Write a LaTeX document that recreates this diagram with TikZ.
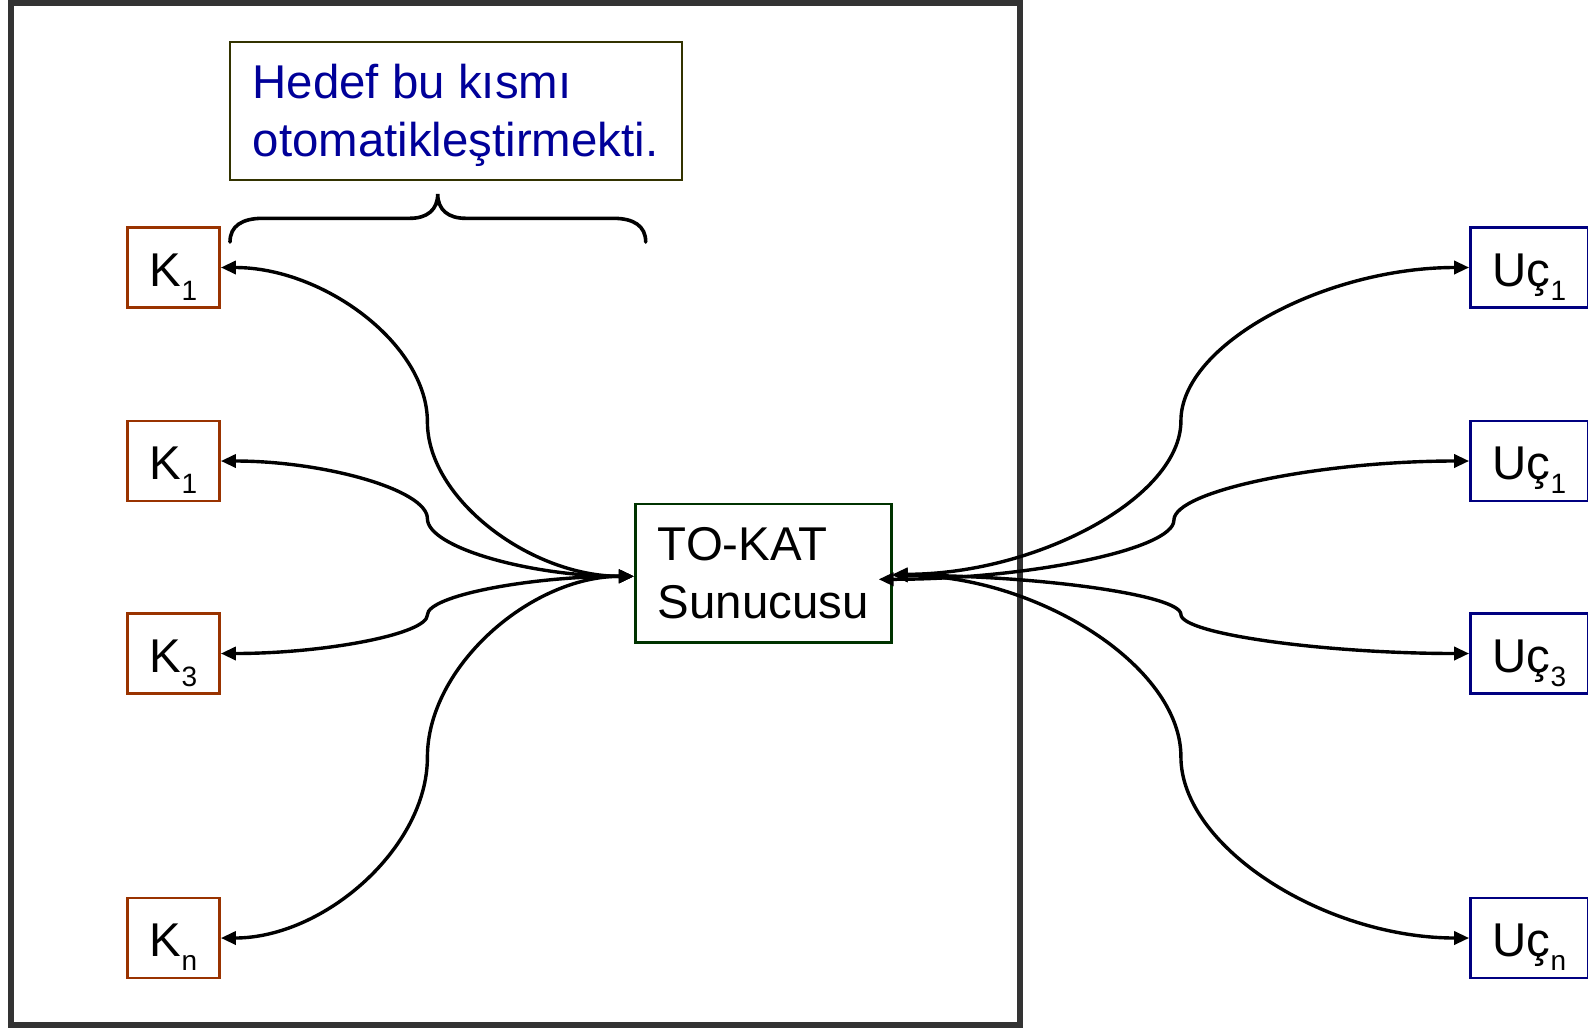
\documentclass[tikz,border=0pt]{standalone}
\usepackage{fontspec}
\setmainfont{Liberation Sans}
\usetikzlibrary{arrows.meta,calc}
\definecolor{framegray}{HTML}{333333}
\definecolor{olivebd}{HTML}{333300}
\definecolor{hedefblue}{HTML}{000099}
\definecolor{kbrown}{HTML}{993300}
\definecolor{srvgreen}{HTML}{003300}
\definecolor{ucnavy}{HTML}{000080}
\newcommand\lowsub[1]{\raisebox{-7pt}{\fontsize{14pt}{15pt}\selectfont #1}}
\newcommand\curvelink[2]{%
  \coordinate (cA) at (#1);
  \coordinate (cB) at (#2);
  \coordinate (cQa) at ($(cA)!0.25!(cB)$);
  \coordinate (cM) at ($(cA)!0.5!(cB)$);
  \coordinate (cQb) at ($(cA)!0.75!(cB)$);
  \draw[conn] (cA) .. controls (cQa |- cA) and (cM |- cQa) .. (cM)
     .. controls (cM |- cQb) and (cQb |- cB) .. (cB);
}
\begin{document}
\begin{tikzpicture}[x=0.5pt,y=-0.5pt,
  >={Triangle[length=7.5pt,width=6.5pt]},
  bigtext/.style={font=\fontsize{23.7pt}{28.8pt}\selectfont},
  kbox/.style={draw=kbrown,line width=1.35pt,minimum width=46pt,minimum height=40pt,
    inner sep=0pt,bigtext,text height=18.5pt,text depth=0pt},
  ubox/.style={kbox,draw=ucnavy,minimum width=59pt},
  srvbox/.style={draw=srvgreen,line width=1.35pt,minimum width=128pt,minimum height=69.3pt,
    inner sep=0pt,align=left,bigtext},
  notebox/.style={draw=olivebd,line width=1pt,minimum width=226pt,minimum height=69.25pt,
    inner sep=0pt,align=left,bigtext,text=hedefblue},
  framebox/.style={draw=framegray,line width=3pt},
  bracestyle/.style={line width=1.8pt,line cap=round},
  conn/.style={<->,line width=1.7pt}]
\useasboundingbox (0,0) rectangle (1588,1028);
\clip (0,0) rectangle (1588,1028);
\fill[white] (0,0) rectangle (1588,1028);
\draw[framebox] (11,3) rectangle (1019.5,1025);

\node[notebox] (hedef) at (455.5,110.75) {Hedef bu kısmı\\otomatikle\smash{ş}tirmekti.};

\node[kbox] (k1) at (173.5,267.5) {K\lowsub{1}};
\node[kbox] (k2) at (173.5,461) {K\lowsub{1}};
\node[kbox] (k3) at (173.5,653.5) {K\lowsub{3}};
\node[kbox] (kn) at (173.5,938) {K\lowsub{n}};

\node[ubox] (u1) at (1529.5,267.5) {Uç\lowsub{1}};
\node[ubox] (u2) at (1529.5,461) {Uç\lowsub{1}};
\node[ubox] (u3) at (1529.5,653.5) {Uç\lowsub{3}};
\node[ubox] (un) at (1529.5,938) {Uç\lowsub{n}};

\node[srvbox] (tokat) at (763.3,573.3) {TO-KAT\\Sunucusu};

\draw[bracestyle] (230,242) .. controls (230,226) and (242,218.3) .. (263,218.3)
  -- (410,218.3) .. controls (427,218.3) and (437.7,210) .. (437.7,194)
  .. controls (437.7,210) and (448.4,218.3) .. (465.4,218.3)
  -- (613,218.3) .. controls (634,218.3) and (645.7,226) .. (645.7,242);

\curvelink{k1.east}{[yshift=-1.5pt]tokat.west}
\curvelink{k2.east}{[yshift=-1.5pt]tokat.west}
\curvelink{k3.east}{[yshift=-1.5pt]tokat.west}
\curvelink{kn.east}{[yshift=-1.5pt]tokat.west}

\curvelink{[yshift=-0.5pt]tokat.east}{u1.west}
\curvelink{[xshift=-7pt,yshift=-3pt]tokat.east}{u2.west}
\curvelink{[yshift=-1pt]tokat.east}{u3.west}
\curvelink{[yshift=-1pt]tokat.east}{un.west}
\end{tikzpicture}
\end{document}
